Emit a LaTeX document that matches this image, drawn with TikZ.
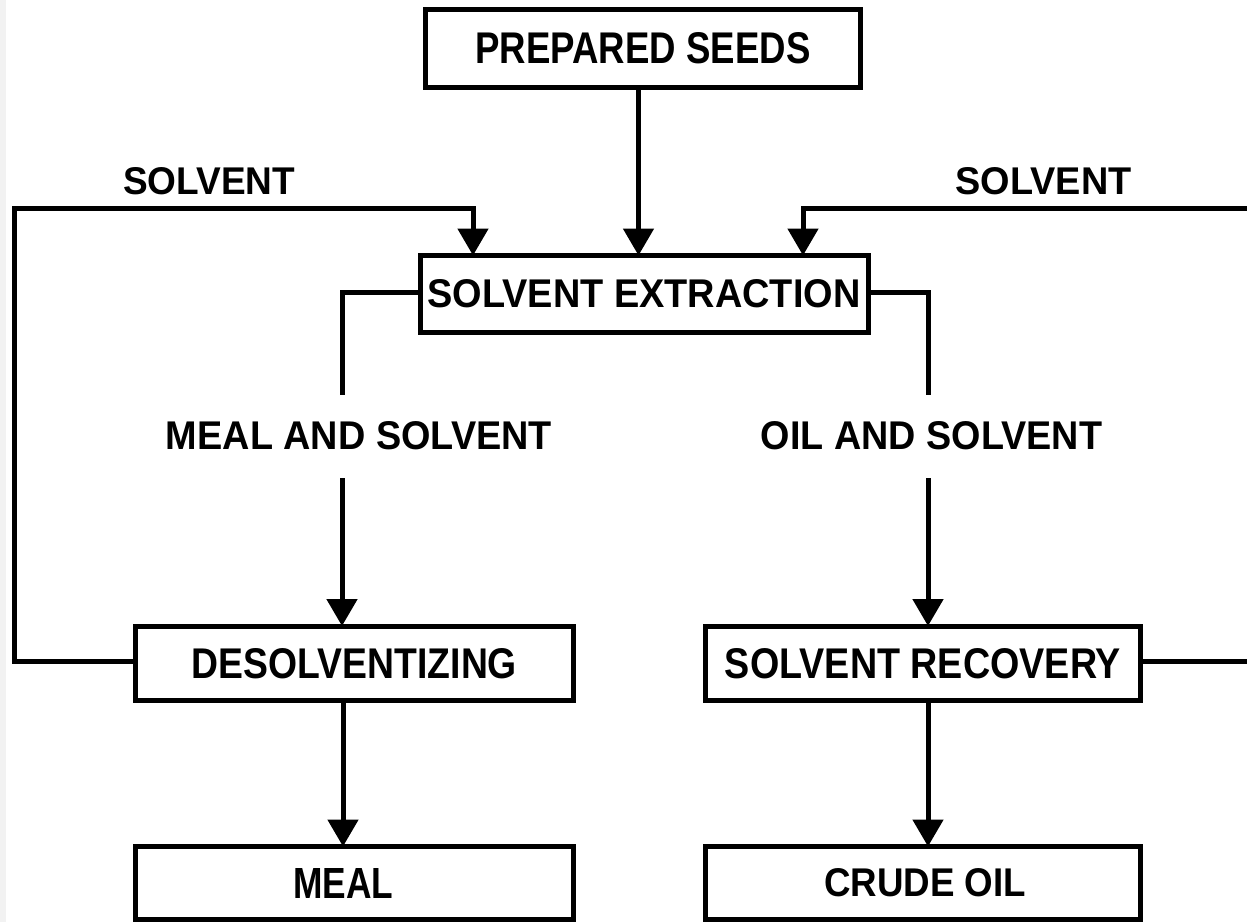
\documentclass[tikz,border=0pt]{standalone}
\usepackage{fontspec}
\setmainfont{Liberation Sans}
\usepackage{graphicx}
\usetikzlibrary{arrows.meta}
\definecolor{stripgray}{RGB}{242,242,242}
\newcommand{\fitt}[3]{\resizebox{#1pt}{#2pt}{\bfseries #3}}
\begin{document}
\begin{tikzpicture}[x=1pt,y=-1pt,
  box/.style={draw,line width=5pt,inner sep=0pt,outer sep=0pt,rectangle},
  lab/.style={inner sep=0pt},
  conn/.style={line width=5pt},
  arr/.style={conn,-{Triangle[width=30pt,length=27pt]}}]
\useasboundingbox (0,0) rectangle (1247,922);
\fill[stripgray] (0,0) rectangle (6,922);
% boxes
\node[box,minimum width=435pt,minimum height=78pt] (seeds) at (643,48.5) {\fitt{335}{31}{PREPARED SEEDS}};
\node[box,minimum width=448pt,minimum height=77pt] (extr) at (644,294) {\fitt{433}{28}{SOLVENT EXTRACTION}};
\node[box,minimum width=438pt,minimum height=74.5pt] (desol) at (354.5,663.25) {\fitt{325}{30}{DESOLVENTIZING}};
\node[box,minimum width=435pt,minimum height=74.5pt] (recov) at (923,663.25) {\fitt{396}{30}{SOLVENT RECOVERY}};
\node[box,minimum width=438pt,minimum height=73pt] (meal) at (354.5,883) {\hspace*{-22pt}\fitt{100}{30}{MEAL}};
\node[box,minimum width=435pt,minimum height=73pt] (crude) at (923,883) {\hspace*{4pt}\fitt{202}{28}{CRUDE OIL}};
% free labels
\node[lab] (solvL) at (209,181.5) {\fitt{172}{27}{SOLVENT}};
\node[lab] (solvR) at (1043.5,181.5) {\fitt{176}{27}{SOLVENT}};
\node[lab] (mas) at (359,436) {\fitt{386}{28}{MEAL AND SOLVENT}};
\node[lab] (oas) at (931.5,436) {\fitt{341}{28}{OIL AND SOLVENT}};
% coordinates
\coordinate (sx) at (638.5,0);
\coordinate (l1) at (14.5,661);
\coordinate (l2) at (14.5,208);
\coordinate (l3) at (473,208);
\coordinate (r1) at (1247,661);
\coordinate (r2) at (1247,208);
\coordinate (r3) at (803,208);
\coordinate (m1) at (342,292);
\coordinate (m2) at (342,395);
\coordinate (m3) at (342,478);
\coordinate (o1) at (928,292);
\coordinate (o2) at (928,395);
\coordinate (o3) at (928,478);
\coordinate (d1) at (343,0);
\coordinate (c1) at (928,0);
% connectors
\draw[arr] (seeds.south -| sx) -- (extr.north -| sx);
\draw[arr] (desol.west |- l1) -- (l1) -- (l2) -- (l3) -- (extr.north -| l3);
\draw[conn] (recov.east |- r1) -- (r1);
\draw[arr] (r2) -- (r3) -- (extr.north -| r3);
\draw[conn] (extr.west |- m1) -- (m1) -- (m2);
\draw[arr] (m3) -- (desol.north -| m3);
\draw[conn] (extr.east |- o1) -- (o1) -- (o2);
\draw[arr] (o3) -- (recov.north -| o3);
\draw[arr] (desol.south -| d1) -- (meal.north -| d1);
\draw[arr] (recov.south -| c1) -- (crude.north -| c1);
\end{tikzpicture}
\end{document}
